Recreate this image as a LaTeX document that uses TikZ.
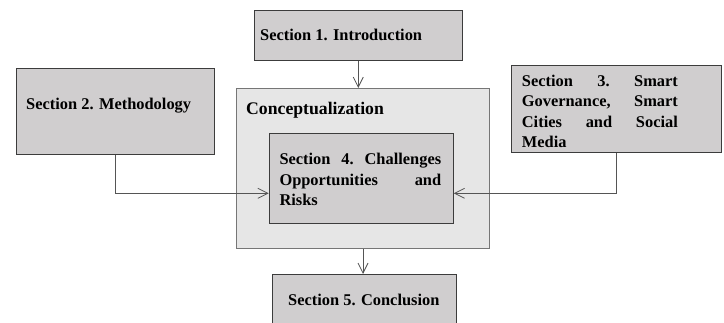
\documentclass[tikz,border=0pt]{standalone}
\usepackage{fontspec}
\setmainfont{Liberation Serif}
\usetikzlibrary{arrows.meta}
\definecolor{boxfill}{RGB}{208,206,207}
\definecolor{outerfill}{RGB}{230,230,230}
\definecolor{boxline}{RGB}{60,60,60}
\definecolor{arrline}{RGB}{85,85,85}
\tikzset{
  box/.style={draw=boxline, line width=1pt, fill=boxfill, inner sep=0pt, anchor=north west},
  outerbox/.style={draw=boxline!70, line width=1pt, fill=outerfill, inner sep=0pt, anchor=north west},
  lbl/.style={inner sep=0pt, anchor=base west, font=\fontsize{16.4}{20.2}\selectfont\bfseries},
  mlbl/.style={lbl, align=left},
  arr/.style={draw=arrline, line width=0.8pt, -{Straight Barb[length=10pt,width=10pt,line width=0.8pt]}}
}
\begin{document}
\begin{tikzpicture}[x=1pt,y=-1pt]
\useasboundingbox (0,0) rectangle (724,323);
% boxes
\node[box, minimum width=207.5pt, minimum height=50pt] (s1) at (254,10) {};
\node[box, minimum width=197.5pt, minimum height=86pt] (s2) at (16,68) {};
\node[outerbox, minimum width=253pt, minimum height=160pt] (cc) at (236,88) {};
\node[box, minimum width=184pt, minimum height=90pt] (s4) at (268.7,133.3) {};
\node[box, minimum width=209.7pt, minimum height=87pt] (s3) at (511,65) {};
\node[box, minimum width=184pt, minimum height=70pt] (s5) at (272,274) {};
% texts
\node[lbl] (t1) at (260,40.7) {Section 1. Introduction};
\node[lbl] (t2) at (26,109.3) {Section 2. Methodology};
\node[lbl, font=\fontsize{17.7}{20}\selectfont\bfseries] (tc) at (246,115) {Conceptualization};
\node[mlbl, text width=156pt] (t3) at (521.7,86.7) {Section\hfill 3.\hfill Smart\\Governance,\hfill Smart\\Cities\hfill and\hfill Social\\Media};
\node[mlbl, text width=161.7pt] (t4) at (279.3,165) {Section\hfill 4.\hfill Challenges\\Opportunities\hfill and\\Risks};
\node[lbl] (t5) at (288,305.7) {Section 5. Conclusion};
% connectors
\coordinate (lvl) at (0,193.3);
\draw[arr] (s1.south) -- (s1.south |- cc.north);
\draw[arr] (cc.south) -- (cc.south |- s5.north);
\draw[arr] (s2.south) |- (s4.west |- lvl);
\draw[arr] (s3.south) |- (s4.east |- lvl);
\end{tikzpicture}
\end{document}
